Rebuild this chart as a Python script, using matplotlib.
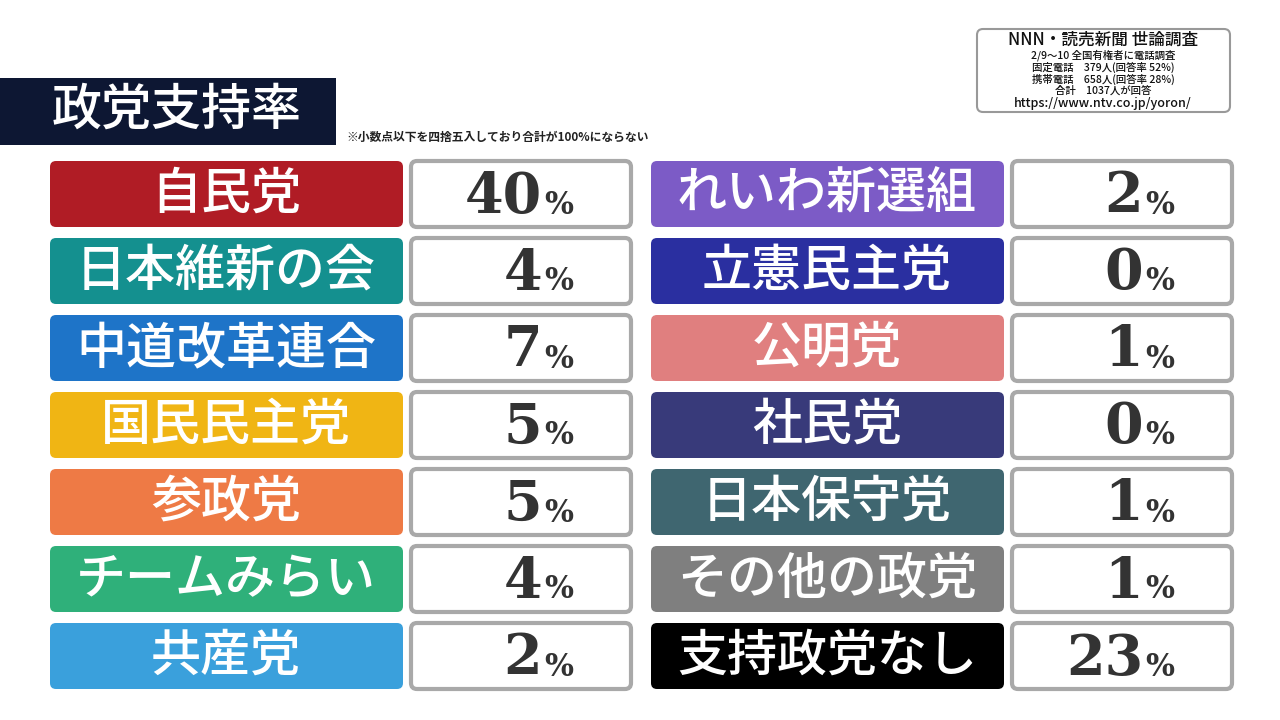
import matplotlib
matplotlib.use("Agg")
import matplotlib.pyplot as plt
from matplotlib.patches import FancyBboxPatch, Rectangle

parties_left = ["自民党", "日本維新の会", "中道改革連合", "国民民主党", "参政党", "チームみらい", "共産党"]
values_left = [40, 4, 7, 5, 5, 4, 2]
colors_left = ["#b01c25", "#14908f", "#1e74c8", "#f0b514", "#ee7a45", "#2fb07a", "#3aa0dc"]
parties_right = ["れいわ新選組", "立憲民主党", "公明党", "社民党", "日本保守党", "その他の政党", "支持政党なし"]
values_right = [2, 0, 1, 0, 1, 1, 23]
colors_right = ["#7c5bc6", "#2a2fa0", "#e07f7f", "#383a7a", "#3f6670", "#7f7f7f", "#000000"]

JP = ["Noto Sans CJK JP", "DejaVu Sans"]
fig = plt.figure(figsize=(12.8, 7.2), dpi=100)
ax = fig.add_axes([0, 0, 1, 1])
ax.set_xlim(0, 1280); ax.set_ylim(720, 0); ax.axis("off")
fig.patch.set_facecolor("white")

def rbox(x, y, w, h, fc, ec="none", lw=0):
    ax.add_patch(FancyBboxPatch((x, y), w, h, boxstyle="round,pad=0,rounding_size=6",
                                fc=fc, ec=ec, lw=lw))

# title
ax.add_patch(Rectangle((0, 78), 336, 67, fc="#0d1733"))
ax.text(52, 111, "政党支持率", family=JP, fontsize=36, fontweight="medium", color="white", va="center", ha="left")
ax.text(346, 137, "※小数点以下を四捨五入しており合計が100%にならない", family=JP, fontsize=8.5,
        fontweight="bold", va="center", color="#222")

# source box
rbox(977, 29, 253, 83, "white", "#999", 1.5)
src = [("NNN・読売新聞 世論調査", 12, 40), ("2/9～10 全国有権者に電話調査", 7.5, 55),
       ("固定電話　379人(回答率 52%)", 7.5, 67), ("携帯電話　658人(回答率 28%)", 7.5, 79),
       ("合計　1037人が回答", 7.5, 91), ("https://www.ntv.co.jp/yoron/", 9, 103)]
for t, s, y in src:
    ax.text(1103, y, t, family=JP, fontsize=s, fontweight="medium", ha="center", va="center", color="#111")

def draw_col(names, vals, cols, x0, vx0):
    for i, (n, v, c) in enumerate(zip(names, vals, cols)):
        y = 161 + i * 77
        rbox(x0, y, 353, 66, c)
        ax.text(x0 + 176, y + 34, n, family=JP, fontsize=36, fontweight="medium", color="white",
                ha="center", va="center")
        rbox(vx0, y, 220, 66, "white", "#a9a9a9", 3)
        ax.text(vx0 + 131, y + 36, str(v), family="DejaVu Serif", fontsize=40, fontweight="bold",
                color="#333", ha="right", va="center")
        ax.text(vx0 + 133, y + 44, "%", family="DejaVu Serif", fontsize=22, fontweight="bold",
                color="#333", ha="left", va="center")

draw_col(parties_left, values_left, colors_left, 50, 411)
draw_col(parties_right, values_right, colors_right, 651, 1012)
fig.savefig("out.png", dpi=100)
